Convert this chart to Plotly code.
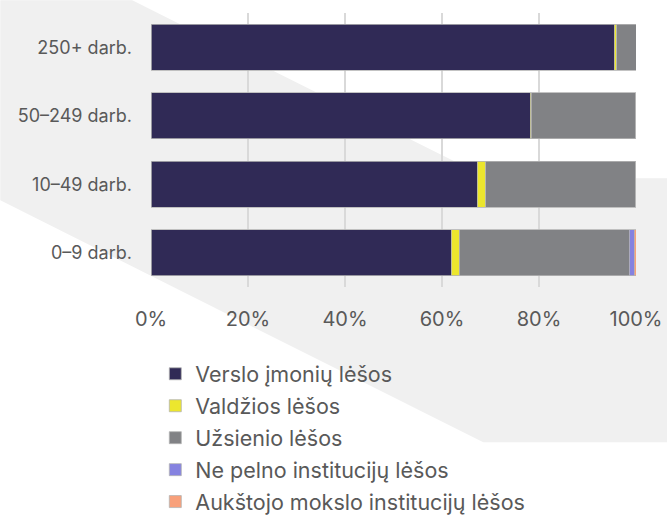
import plotly.graph_objects as go

categories = ["0–9 darb.", "10–49 darb.", "50–249 darb.", "250+ darb."]
series_names = [
    "Verslo įmonių lėšos",
    "Valdžios lėšos",
    "Užsienio lėšos",
    "Ne pelno institucijų lėšos",
    "Aukštojo mokslo institucijų lėšos",
]
verslo = [61.9, 67.3, 78.2, 95.5]
valdzios = [1.7, 1.7, 0.2, 0.5]
uzsienio = [35.0, 30.9, 21.5, 4.0]
ne_pelno = [1.05, 0.0, 0.05, 0.0]
aukstojo = [0.35, 0.1, 0.05, 0.0]
colors = ["#302a56", "#ece62e", "#818285", "#8582e0", "#f8a07a"]
x_ticks = [0, 20, 40, 60, 80, 100]
x_tick_labels = ["0%", "20%", "40%", "60%", "80%", "100%"]

W, H = 667, 515
L, R, T, B = 150.7, 635.7, 12.7, 286.7

def px_to_paper(px, py):
    return (px - L) / (R - L), (B - py) / (B - T)

fig = go.Figure()
for i, (name, vals) in enumerate(zip(series_names, [verslo, valdzios, uzsienio, ne_pelno, aukstojo])):
    fig.add_trace(go.Bar(
        y=categories, x=vals, name=name, orientation="h",
        marker=dict(color=colors[i], line=dict(color="#b4b4b4", width=0.8)),
        legendgroup=f"g{i}",
    ))

# background band
poly = [(0, 0), (132, 0), (488, 178), (667, 178), (667, 442), (483, 442), (0, 200)]
pts = [px_to_paper(x, y) for x, y in poly]
path = "M " + " L ".join(f"{x:.4f},{y:.4f}" for x, y in pts) + " Z"
fig.add_shape(type="path", xref="paper", yref="paper", path=path,
              fillcolor="#f0f0f0", line=dict(width=0), layer="below")

font = "Inter, Roboto, sans-serif"
lx, ly = px_to_paper(155, 353)
fig.update_layout(
    width=W, height=H, autosize=False,
    margin=dict(l=L, r=W - R, t=T, b=H - B, pad=0, autoexpand=False),
    barmode="stack", bargap=0.33,
    paper_bgcolor="white", plot_bgcolor="rgba(0,0,0,0)",
    font=dict(family=font, color="#595959", size=19),
    showlegend=True,
    legend=dict(x=lx, y=ly, xanchor="left", yanchor="top",
                orientation="v", traceorder="grouped", tracegroupgap=1,
                font=dict(size=21.5, color="#595959", family=font),
                bgcolor="rgba(0,0,0,0)", itemwidth=30),
    xaxis=dict(range=[0, 100], tickvals=x_ticks, ticktext=x_tick_labels,
               showgrid=True, gridcolor="#d9d9d9", gridwidth=1.5,
               zeroline=False, showline=False, ticks="",
               ticklabelstandoff=18, fixedrange=True,
               tickfont=dict(size=20, color="#595959", family=font)),
    yaxis=dict(showgrid=False, zeroline=False, showline=False, ticks="",
               ticklabelstandoff=18, fixedrange=True,
               tickfont=dict(size=18, color="#595959", family=font)),
)

fig.write_html(
    "out.html",
    config={"displayModeBar": False},
    post_script="document.body.style.margin='0';document.body.style.overflow='hidden';",
)
